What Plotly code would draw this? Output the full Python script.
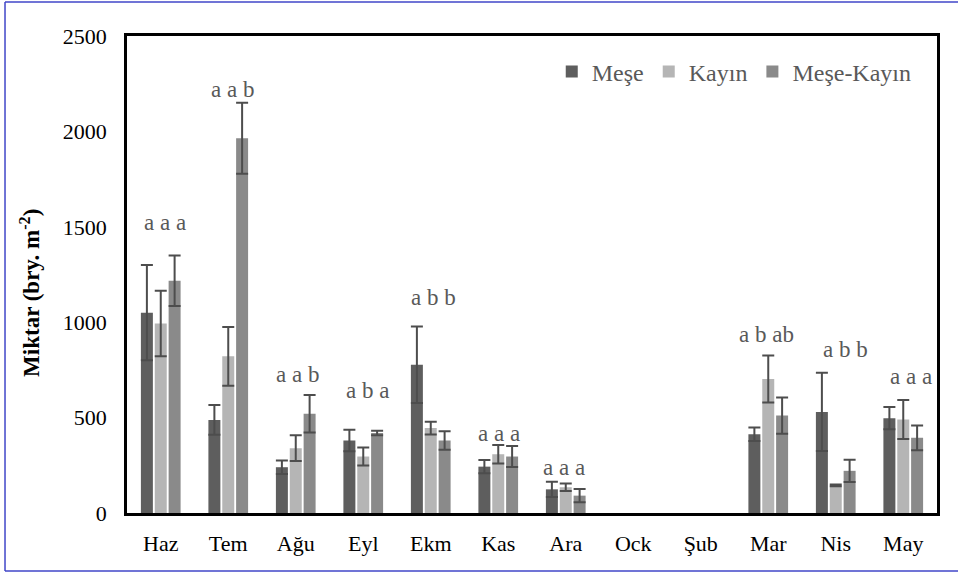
import plotly.graph_objects as go

# Monthly amounts (bry. m-2) for the three stand types, with standard errors
months = ["Haz", "Tem", "Ağu", "Eyl", "Ekm", "Kas", "Ara", "Ock", "Şub", "Mar", "Nis", "May"]

mese = [1050, 488, 240, 380, 777, 243, 124, None, None, 413, 530, 497]
mese_err = [250, 78, 35, 56, 200, 35, 40, None, None, 35, 205, 58]

kayin = [993, 821, 340, 296, 445, 308, 135, None, None, 702, 145, 490]
kayin_err = [172, 154, 68, 47, 33, 48, 20, None, None, 123, 5, 102]

mese_kayin = [1217, 1964, 520, 419, 380, 296, 91, None, None, 511, 221, 394]
mese_kayin_err = [132, 186, 98, 12, 48, 55, 35, None, None, 95, 58, 65]

# Significance letters per month (Meşe, Kayın, Meşe-Kayın)
letters = ["a a a", "a a b", "a a b", "a b a", "a b b", "a a a", "a a a", "", "", "a b ab", "a b b", "a a a"]

# Height (in data units) where each letter group is written, and small horizontal nudges (px)
letter_heights = [1525, 2222, 727, 641, 1132, 418, 238, None, None, 938, 858, 714]
letter_dx = [4, 4, 2, 4, 3, 1, -2, 0, 0, -2, 10, 8]

series = [
    ("Meşe", mese, mese_err, "#5e5e5e"),
    ("Kayın", kayin, kayin_err, "#b5b5b5"),
    ("Meşe-Kayın", mese_kayin, mese_kayin_err, "#8a8a8a"),
]

FONT = "Liberation Serif"

fig = go.Figure()
for name, vals, errs, color in series:
    fig.add_trace(go.Bar(
        name=name,
        x=months,
        y=vals,
        marker=dict(color=color, line=dict(width=0)),
        error_y=dict(type="data", array=errs, visible=True,
                     color="#4d4d4d", thickness=2, width=6),
    ))

for m, txt, h, dx in zip(months, letters, letter_heights, letter_dx):
    if not txt or h is None:
        continue
    fig.add_annotation(
        x=m, y=h, xref="x", yref="y", text=txt, showarrow=False,
        xshift=dx, yanchor="middle",
        font=dict(family=FONT, size=23, color="#595959"),
    )

# Y-axis title
fig.add_annotation(
    x=-0.12, y=0.461, xref="paper", yref="paper", xanchor="center", yanchor="middle",
    text="<b>Miktar (bry. m<sup>-2</sup>)</b>", textangle=-90, showarrow=False,
    font=dict(family=FONT, size=23, color="#000000"),
)

# Outer frame (left, top, bottom edges) around the whole chart
FRAME = dict(color="#4046c8", width=1.5)
fx0, fx1, fy0, fy1 = -0.1506, 1.05, -0.1216, 1.0713
for x0, y0, x1, y1 in [(fx0, fy0, fx0, fy1), (fx0, fy1, fx1, fy1), (fx0, fy0, fx1, fy0)]:
    fig.add_shape(type="line", xref="paper", yref="paper",
                  x0=x0, y0=y0, x1=x1, y1=y1, line=FRAME, layer="below")

fig.update_layout(
    width=958, height=574,
    margin=dict(l=127, r=21, t=36, b=61),
    paper_bgcolor="white", plot_bgcolor="white",
    barmode="group", bargap=0.384, bargroupgap=0.135,
    font=dict(family=FONT, size=22, color="#000000"),
    showlegend=True,
    legend=dict(
        orientation="h", x=0.975, xanchor="right", y=0.9245, yanchor="middle",
        font=dict(family=FONT, size=24, color="#595959"),
        bgcolor="rgba(0,0,0,0)", itemwidth=30, traceorder="normal",
    ),
    xaxis=dict(
        showline=True, linecolor="#000000", linewidth=2.5, mirror=True,
        ticks="", showgrid=False, ticklabelstandoff=9,
        tickfont=dict(family=FONT, size=22, color="#000000"),
    ),
    yaxis=dict(
        range=[0, 2500], dtick=500, tick0=0,
        showline=True, linecolor="#000000", linewidth=2.5, mirror=True,
        ticks="", showgrid=False, zeroline=False, ticklabelstandoff=13,
        tickfont=dict(family=FONT, size=22, color="#000000"),
    ),
)

fig.write_html("out.html")
